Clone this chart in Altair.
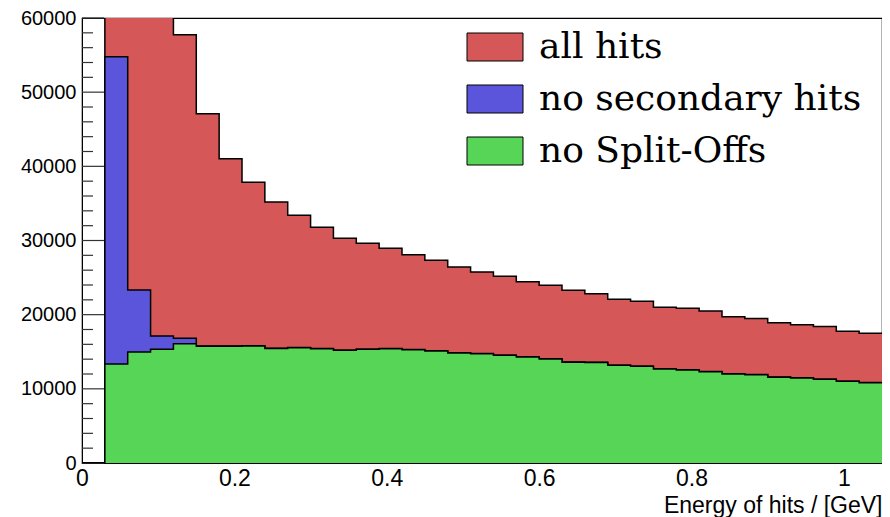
import altair as alt
import pandas as pd

# bin edges (width 0.03 GeV) from 0 to 1.05
bin_width = 0.03
n_bins = 35
edges = [round(i * bin_width, 2) for i in range(n_bins + 1)]

series_names = ["all hits", "no secondary hits", "no Split-Offs"]
series_colors = ["#d55757", "#5a55da", "#57d557"]

all_hits = [0, 68000, 66000, 62000, 57750, 47100, 41030, 37850, 35190, 33400,
            31780, 30300, 29620, 28950, 28090, 27330, 26430, 25750, 25170, 24450,
            23960, 23290, 22830, 22070, 21800, 20990, 20850, 20490, 19730, 19500,
            18920, 18650, 18420, 17750, 17480]
no_secondary = [0, 54780, 23330, 17120, 16810, 15760, 15760, 15800, 15480, 15570,
                15430, 15210, 15350, 15430, 15300, 15120, 14850, 14760, 14540, 14310,
                14040, 13620, 13580, 13190, 13050, 12690, 12560, 12330, 12020, 11930,
                11580, 11480, 11300, 11030, 10850]
no_splitoffs = [0, 13350, 14970, 15330, 16090, 15730, 15730, 15780, 15450, 15550,
                15410, 15190, 15330, 15410, 15280, 15100, 14830, 14740, 14520, 14290,
                14020, 13600, 13560, 13170, 13030, 12670, 12540, 12310, 12000, 11910,
                11560, 11460, 11280, 11010, 10830]

y_major = [0, 10000, 20000, 30000, 40000, 50000, 60000]
y_minor = [v for v in range(0, 60001, 2000) if v % 10000 != 0]
x_labels = [0, 0.2, 0.4, 0.6, 0.8, 1.0]

rows = []
for name, vals in zip(series_names, [all_hits, no_secondary, no_splitoffs]):
    for e, v in zip(edges[:-1], vals):
        rows.append({"edge": e, "value": v, "series": name})
    rows.append({"edge": edges[-1], "value": vals[-1], "series": name})
df = pd.DataFrame(rows)

PLOT_W = 800
x_scale = alt.Scale(domain=[0, 1.05], nice=False, zero=False)
y_scale = alt.Scale(domain=[0, 60000], nice=False)
color_scale = alt.Scale(domain=series_names, range=series_colors)

x_axis = alt.Axis(values=x_labels, format="~g", ticks=False, grid=False,
                  labelFontSize=23, labelFont="Liberation Sans", labelPadding=4,
                  labelColor="black", domainColor="black",
                  title="Energy of hits / [GeV]", titleFontSize=23,
                  titleFont="Liberation Sans", titleFontWeight="normal",
                  titleAnchor="end", titleAlign="right", titleX=PLOT_W, titleY=49,
                  titleBaseline="alphabetic", titleColor="black", labelFlush=False)
y_axis = alt.Axis(values=y_major, format="d", ticks=False, grid=False,
                  labelFontSize=20, labelFont="Liberation Sans", labelPadding=6,
                  labelColor="black", domainColor="black", title=None)

x_enc = alt.X("edge:Q", scale=x_scale, axis=x_axis)
y_enc = alt.Y("value:Q", scale=y_scale, axis=y_axis, stack=None)

ticks_major = alt.Chart(pd.DataFrame({"value": y_major})).mark_rule(
    color="#333333", strokeWidth=1.2).encode(
    y=y_enc, x=alt.value(0), x2=alt.value(22))
ticks_minor = alt.Chart(pd.DataFrame({"value": y_minor})).mark_rule(
    color="#333333", strokeWidth=1.2).encode(
    y=y_enc, x=alt.value(0), x2=alt.value(11))

legend = alt.Legend(
    title=None, orient="none", legendX=395, legendY=11,
    symbolType="M-2,-1L2,-1L2,1L-2,1Z", symbolSize=784,
    symbolStrokeColor="black", symbolStrokeWidth=1, symbolOpacity=1,
    labelFont="DejaVu Serif", labelFontSize=36, labelColor="black",
    labelOffset=26, rowPadding=16, padding=0, labelLimit=500)

layers = [ticks_major, ticks_minor]
for name in series_names:
    sub = alt.Chart(df).transform_filter(alt.datum.series == name)
    area = sub.mark_area(interpolate="step-after", clip=True, opacity=1).encode(
        x=x_enc, y=y_enc, y2=alt.datum(0),
        color=alt.Color("series:N", scale=color_scale, legend=legend),
    )
    line = sub.mark_line(interpolate="step-after", clip=True, color="black",
                         strokeWidth=1.5).encode(x=x_enc, y=y_enc)
    layers += [area, line]

chart = alt.layer(*layers).properties(
    width=PLOT_W, height=445,
    background="white",
    autosize=alt.AutoSizeParams(type="none"),
    padding={"left": 74, "top": 10, "right": 0, "bottom": 54},
).configure_view(stroke="black", strokeWidth=1.2)

chart.save("out.html", embed_options={"renderer": "svg", "actions": False})
